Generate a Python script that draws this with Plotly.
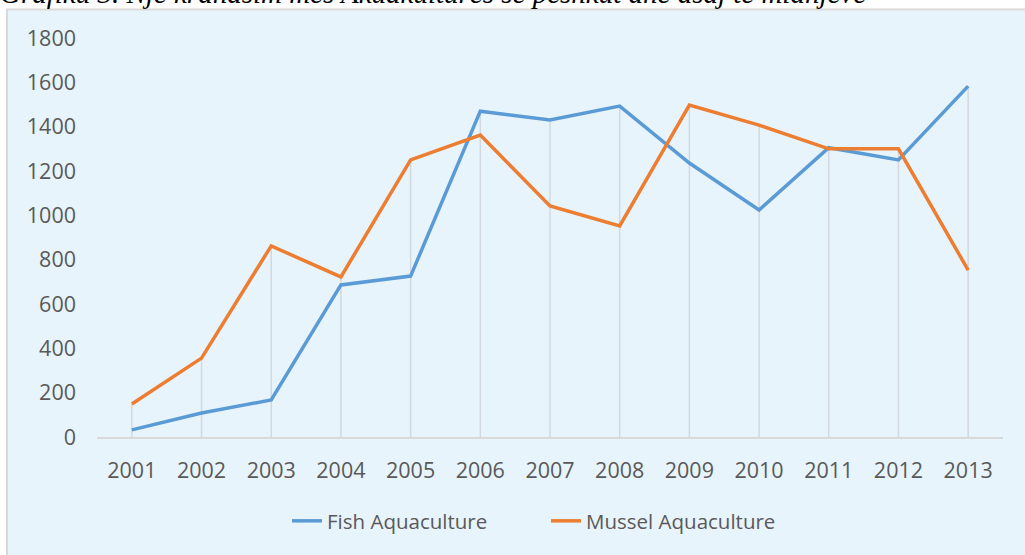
import plotly.graph_objects as go

years = ["2001", "2002", "2003", "2004", "2005", "2006", "2007",
         "2008", "2009", "2010", "2011", "2012", "2013"]
fish = [32, 108, 167, 686, 726, 1470, 1430, 1493, 1236, 1024, 1305, 1250, 1583]
mussel = [149, 356, 862, 722, 1250, 1362, 1042, 952, 1497, 1407, 1300, 1300, 753]
y_ticks = [0, 200, 400, 600, 800, 1000, 1200, 1400, 1600, 1800]
title_text = "Grafiku 3. Një krahasim mes Akuakulturës së peshkut dhe asaj të midhjeve"

W, H = 1025, 555
L, R, T, B = 97, 22, 38, 118
pw, ph = W - L - R, H - T - B

def px_x(p):
    return (p - L) / pw

def px_y(p):
    return (H - B - p) / ph

BG = "#E8F4FC"
TXT = "#595959"
FONT = "Open Sans"

# drop lines from the highest point to the axis
dx, dy = [], []
for yr, f, m in zip(years, fish, mussel):
    dx += [yr, yr, None]
    dy += [0, max(f, m), None]

fig = go.Figure()
fig.add_trace(go.Scatter(x=dx, y=dy, mode="lines",
                         line=dict(color="#D3D8DE", width=1.5),
                         showlegend=False, hoverinfo="skip"))
fig.add_trace(go.Scatter(x=years, y=fish, mode="lines", name="Fish Aquaculture",
                         line=dict(color="#5B9BD5", width=3.5)))
fig.add_trace(go.Scatter(x=years, y=mussel, mode="lines", name="Mussel Aquaculture",
                         line=dict(color="#ED7D31", width=3.5)))

fig.add_shape(type="rect", xref="paper", yref="paper",
              x0=px_x(7), x1=px_x(W + 20), y0=px_y(H + 20), y1=px_y(9.5),
              fillcolor=BG, line=dict(color="#D9D9D9", width=2), layer="below")

fig.add_annotation(text="<i>" + title_text + "</i>", xref="paper", yref="paper",
                   x=px_x(-2), y=px_y(-7), xanchor="left", yanchor="middle",
                   showarrow=False,
                   font=dict(family="Liberation Serif", size=29, color="#000000"))

fig.update_layout(
    width=W, height=H,
    margin=dict(l=L, r=R, t=T, b=B, pad=0),
    paper_bgcolor="white",
    plot_bgcolor="rgba(0,0,0,0)",
    font=dict(family=FONT, size=20.5, color=TXT),
    showlegend=True,
    legend=dict(orientation="h", x=px_x(287), y=px_y(521),
                xanchor="left", yanchor="middle",
                entrywidth=214, entrywidthmode="pixels",
                bgcolor="rgba(0,0,0,0)",
                font=dict(family=FONT, size=20.5, color=TXT)),
    xaxis=dict(type="category", range=[-0.5, len(years) - 0.5],
               showgrid=False, zeroline=False, showline=True,
               linecolor="#D9D9D9", linewidth=1.5, ticks="",
               ticklabelstandoff=13,
               tickfont=dict(family=FONT, size=21.5, color=TXT)),
    yaxis=dict(range=[0, 1800], tickvals=y_ticks, showgrid=False,
               zeroline=False, showline=False, ticks="",
               ticklabelstandoff=20,
               tickfont=dict(family=FONT, size=21.5, color=TXT)),
)

fig.write_html("out.html", config={"displayModeBar": False},
               post_script="document.body.style.margin='0';document.body.style.overflow='hidden';")
